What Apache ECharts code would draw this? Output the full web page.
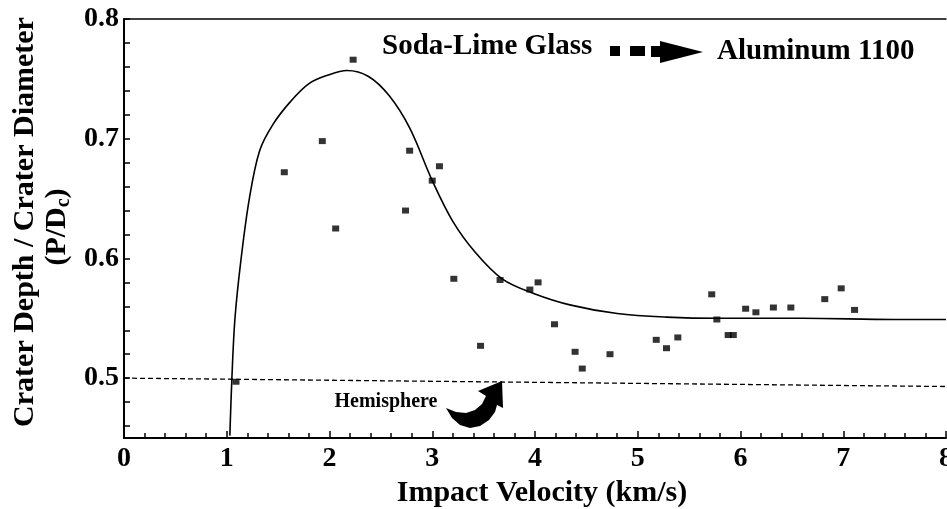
<!DOCTYPE html>
<html>
<head>
<meta charset="utf-8">
<script src="https://cdn.jsdelivr.net/npm/echarts@6/dist/echarts.min.js"></script>
<style>
  html, body { margin: 0; padding: 0; background: #fff; }
  #chart { width: 947px; height: 509px; }
</style>
</head>
<body>
<div id="chart"></div>
<script>
// measured test points (impact velocity km/s, P/Dc)
const testVelocity = [1.09, 1.56, 1.93, 2.06, 2.23, 2.74, 2.78, 3.0, 3.07, 3.21, 3.47, 3.66, 3.95, 4.03, 4.19, 4.39,
  4.46, 4.73, 5.18, 5.28, 5.39, 5.72, 5.77, 5.88, 5.93, 6.05, 6.15, 6.32, 6.49, 6.82, 6.98, 7.11]
const testRatio = [0.497, 0.672, 0.698, 0.625, 0.766, 0.640, 0.690, 0.665, 0.677, 0.583, 0.527, 0.582, 0.574, 0.580, 0.545, 0.522,
  0.508, 0.520, 0.532, 0.525, 0.534, 0.570, 0.549, 0.536, 0.536, 0.558, 0.555, 0.559, 0.559, 0.566, 0.575, 0.557]

// fitted curve
const fitVelocity = [1.03, 1.05, 1.08, 1.14, 1.22, 1.32, 1.45, 1.62, 1.80, 1.98, 2.17, 2.38, 2.58, 2.78, 3.0, 3.20,
  3.42, 3.68, 3.98, 4.35, 4.80, 5.28, 5.80, 6.60, 7.50, 8.0]
const fitRatio = [0.452, 0.50, 0.55, 0.60, 0.650, 0.690, 0.712, 0.731, 0.746, 0.753, 0.757, 0.752, 0.736, 0.709, 0.665, 0.631,
  0.605, 0.583, 0.571, 0.561, 0.554, 0.551, 0.550, 0.550, 0.549, 0.549]

// hemisphere reference (scan is slightly tilted)
const hemiVelocity = [0, 8]
const hemiRatio = [0.5, 0.493]

const yLabelValues = [0.5, 0.6, 0.7, 0.8]
const yTickValues = [0.46, 0.48, 0.5, 0.52, 0.54, 0.56, 0.58, 0.6, 0.62, 0.64, 0.66, 0.68, 0.7, 0.72, 0.74, 0.76, 0.78, 0.8]

const zip = (a, b) => a.map((v, i) => [v, b[i]])
const serif = 'Liberation Serif'

const chart = echarts.init(document.getElementById('chart'))

chart.setOption({
  backgroundColor: '#fff',
  animation: false,
  grid: { left: 124, right: 1, top: 19, bottom: 71, outerBoundsMode: 'none' },
  xAxis: [{
    type: 'value',
    min: 0,
    max: 8,
    interval: 1,
    name: 'Impact Velocity (km/s)',
    nameLocation: 'middle',
    nameGap: 38,
    nameTextStyle: { fontFamily: serif, fontWeight: 'bold', fontSize: 30, color: '#000', padding: [0, 0, 0, 14] },
    axisLine: { lineStyle: { color: '#000', width: 2 } },
    axisTick: { inside: true, length: 7, lineStyle: { color: '#000', width: 1.5 } },
    minorTick: { show: true, splitNumber: 5, length: 5, lineStyle: { color: '#000', width: 1.5 } },
    axisLabel: { fontFamily: serif, fontWeight: 'bold', fontSize: 28, color: '#000', margin: 7 },
    splitLine: { show: false }
  }, {
    type: 'value',
    position: 'top',
    min: 0,
    max: 8,
    axisLine: { show: true, lineStyle: { color: '#000', width: 1.5 } },
    axisTick: { show: false },
    axisLabel: { show: false },
    splitLine: { show: false }
  }],
  yAxis: {
    type: 'value',
    min: 0.45,
    max: 0.8,
    axisLine: { show: true, lineStyle: { color: '#000', width: 2 } },
    axisTick: { show: true, inside: true, length: 6, customValues: yTickValues, lineStyle: { color: '#000', width: 1.5 } },
    axisLabel: { customValues: yLabelValues, fontFamily: serif, fontWeight: 'bold', fontSize: 28, color: '#000', margin: 5 },
    splitLine: { show: false }
  },
  series: [{
    name: 'hemisphere',
    type: 'line',
    data: zip(hemiVelocity, hemiRatio),
    symbol: 'none',
    lineStyle: { color: '#000', width: 1.3, type: [5, 3] },
    silent: true
  }, {
    name: 'fit',
    type: 'line',
    data: zip(fitVelocity, fitRatio),
    symbol: 'none',
    smooth: 0.35,
    lineStyle: { color: '#000', width: 1.6 }
  }, {
    name: 'tests',
    type: 'scatter',
    data: zip(testVelocity, testRatio),
    symbol: 'rect',
    symbolSize: [7, 6],
    itemStyle: { color: '#000' }
  }],
  graphic: [
    {
      type: 'text', x: 25, y: 222, rotation: Math.PI / 2,
      style: { text: 'Crater Depth / Crater Diameter', fontFamily: serif, fontWeight: 'bold', fontSize: 30, fill: '#000', align: 'center', verticalAlign: 'middle' }
    },
    {
      type: 'text', x: 57, y: 227, rotation: Math.PI / 2,
      style: {
        text: '{n|(P/D}{s|c}{n|)}',
        align: 'center', verticalAlign: 'middle',
        rich: {
          n: { fontFamily: serif, fontWeight: 'bold', fontSize: 30, fill: '#000', lineHeight: 34 },
          s: { fontFamily: serif, fontWeight: 'bold', fontSize: 20, fill: '#000', verticalAlign: 'bottom' }
        }
      }
    },
    {
      type: 'text', x: 382, y: 47,
      style: { text: 'Soda-Lime Glass', fontFamily: serif, fontWeight: 'bold', fontSize: 29, fill: '#000', align: 'left', verticalAlign: 'middle' }
    },
    { type: 'rect', shape: { x: 610, y: 46, width: 10, height: 10 }, style: { fill: '#000' } },
    { type: 'rect', shape: { x: 630, y: 46, width: 15, height: 10 }, style: { fill: '#000' } },
    {
      type: 'polygon',
      shape: { points: [[651, 46], [660, 46], [660, 41], [703, 52], [660, 63], [660, 57], [651, 57]] },
      style: { fill: '#000' }
    },
    {
      type: 'text', x: 717, y: 52,
      style: { text: 'Aluminum 1100', fontFamily: serif, fontWeight: 'bold', fontSize: 29, fill: '#000', align: 'left', verticalAlign: 'middle' }
    },
    {
      type: 'text', x: 386, y: 402,
      style: { text: 'Hemisphere', fontFamily: serif, fontWeight: 'bold', fontSize: 20, fill: '#000', align: 'center', verticalAlign: 'middle' }
    },
    {
      type: 'polygon',
      shape: {
        points: [[446, 408], [452, 418], [460, 425], [470, 428], [480, 426], [489, 420], [495, 412], [497, 405],
          [503, 408], [502, 381], [478, 391], [486, 396], [482, 404], [475, 410], [466, 413], [456, 412]]
      },
      style: { fill: '#000' }
    }
  ]
})
</script>
</body>
</html>
